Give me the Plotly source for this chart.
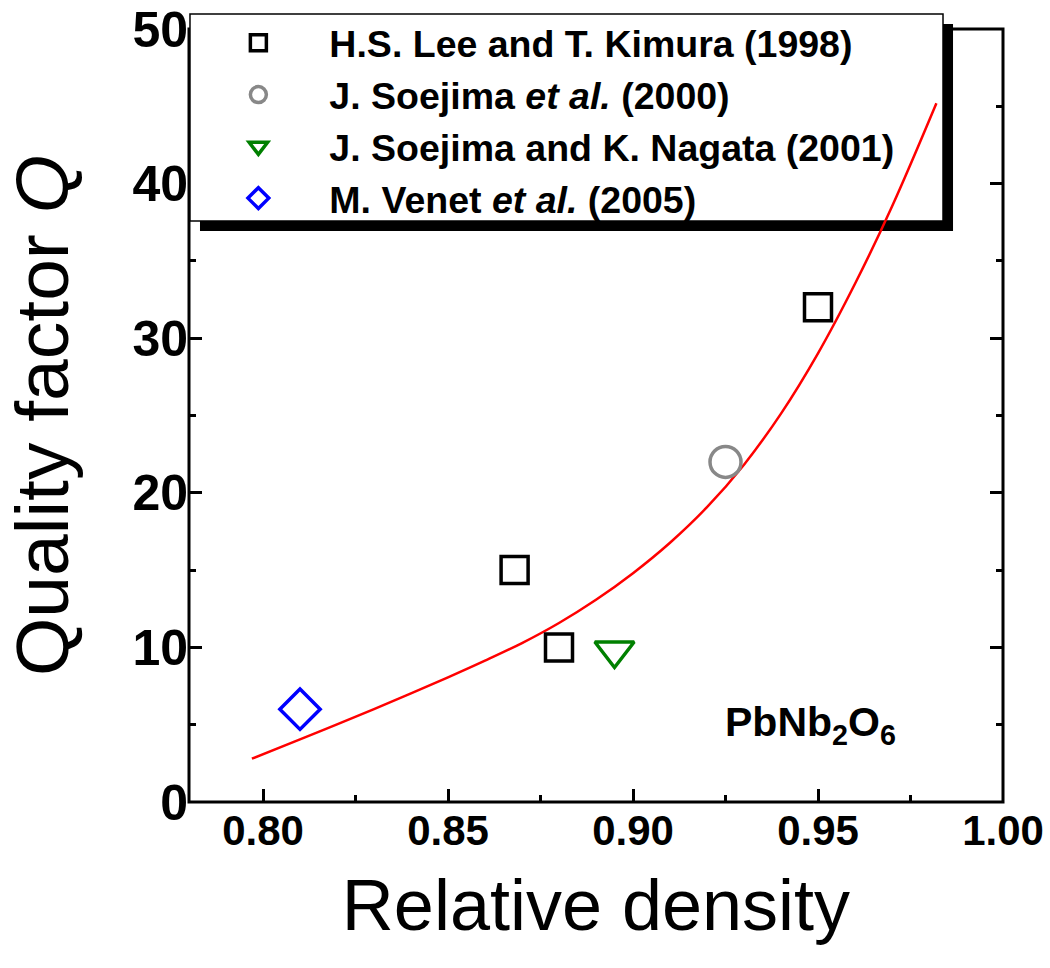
import plotly.graph_objects as go

# ---------------- data ----------------
lee_x = [0.868, 0.880, 0.950]
lee_y = [15.0, 10.0, 32.0]
soe_x = [0.925]
soe_y = [22.0]
nag_x = [0.895]
nag_y = [9.8]
ven_x = [0.810]
ven_y = [6.0]

fit_x = [0.797, 0.81, 0.82, 0.83, 0.84, 0.85, 0.86, 0.87, 0.88, 0.89, 0.90,
         0.91, 0.92, 0.93, 0.94, 0.95, 0.96, 0.97, 0.982]
fit_y = [2.8, 4.05, 5.02, 6.01, 7.02, 8.06, 9.14, 10.28, 11.58, 13.08, 14.80,
         16.77, 19.07, 21.82, 25.12, 29.02, 33.52, 38.52, 45.2]

x_ticks = [0.80, 0.85, 0.90, 0.95, 1.00]
x_ticktext = ["0.80", "0.85", "0.90", "0.95", "1.00"]
x_minor = [0.825, 0.875, 0.925, 0.975]
y_ticks = [0, 10, 20, 30, 40, 50]
y_ticktext = ["0", "10", "20", "30", "40", "50"]
y_left_major = [0, 10, 20, 30]
y_left_minor = [5, 15, 25, 35]
y_right_major = [10, 20, 30, 40]
y_right_minor = [5, 15, 25, 35, 45]

names = ["H.S. Lee and T. Kimura (1998)",
         "J. Soejima <i>et al.</i> (2000)",
         "J. Soejima and K. Nagata (2001)",
         "M. Venet <i>et al.</i> (2005)"]

FONT = "Liberation Sans, Arial, sans-serif"

fig = go.Figure()

fig.add_trace(go.Scatter(x=fit_x, y=fit_y, mode="lines",
                         line=dict(color="#ff0000", width=2.5, shape="spline", smoothing=1.0),
                         showlegend=False, hoverinfo="skip"))

fig.add_trace(go.Scatter(x=lee_x, y=lee_y, mode="markers", name=names[0], legendgroup="a",
                         marker=dict(symbol="square-open", size=27, color="black", line=dict(width=3.5, color="black"))))
fig.add_trace(go.Scatter(x=soe_x, y=soe_y, mode="markers", name=names[1], legendgroup="b",
                         marker=dict(symbol="circle-open", size=31, color="#888888", line=dict(width=3.5, color="#888888"))))
fig.add_trace(go.Scatter(x=nag_x, y=nag_y, mode="markers", name=names[2], legendgroup="c",
                         marker=dict(symbol="triangle-down-open", size=34, color="#008000", line=dict(width=3.5, color="#008000"))))
fig.add_trace(go.Scatter(x=ven_x, y=ven_y, mode="markers", name=names[3], legendgroup="d",
                         marker=dict(symbol="diamond-open", size=31, color="#0000ff", line=dict(width=3.5, color="#0000ff"))))

# dummy traces for tick-only overlay axes
fig.add_trace(go.Scatter(x=[None], y=[None], yaxis="y2", showlegend=False, hoverinfo="skip"))
fig.add_trace(go.Scatter(x=[None], y=[None], yaxis="y3", showlegend=False, hoverinfo="skip"))

tick_common = dict(ticks="inside", ticklen=13, tickwidth=3, tickcolor="black",
                   showgrid=False, zeroline=False, showline=False, automargin=False)

fig.update_layout(
    width=1050, height=968,
    margin=dict(l=189, r=47, t=29, b=166, autoexpand=False),
    paper_bgcolor="white", plot_bgcolor="rgba(0,0,0,0)",
    xaxis=dict(range=[0.78, 1.00], tickvals=x_ticks, ticktext=x_ticktext,
               tickfont=dict(family=FONT, size=42, color="black", weight="bold"),
               minor=dict(tickvals=x_minor, ticks="inside", ticklen=7, tickwidth=3, tickcolor="black"),
               title=dict(text="Relative density", font=dict(family=FONT, size=72, color="black"), standoff=26),
               **tick_common),
    yaxis=dict(range=[0, 50], tickvals=y_ticks, ticktext=y_ticktext, ticks="",
               tickfont=dict(family=FONT, size=50, color="black", weight="bold"),
               title=dict(text="Quality factor <i>Q</i>", font=dict(family=FONT, size=75, color="black"), standoff=40),
               showgrid=False, zeroline=False, showline=False, automargin=False),
    yaxis3=dict(range=[0, 50], overlaying="y", side="left", tickvals=y_left_major, showticklabels=False,
                minor=dict(tickvals=y_left_minor, ticks="inside", ticklen=7, tickwidth=3, tickcolor="black"),
                **tick_common),
    yaxis2=dict(range=[0, 50], overlaying="y", side="right", tickvals=y_right_major, showticklabels=False,
                minor=dict(tickvals=y_right_minor, ticks="inside", ticklen=7, tickwidth=3, tickcolor="black"),
                **tick_common),
    legend=dict(x=-0.002, y=1.022, xanchor="left", yanchor="top", bgcolor="rgba(0,0,0,0)", borderwidth=0,
                font=dict(family=FONT, size=37.5, color="black", weight="bold"), tracegroupgap=0,
                itemwidth=132),
    shapes=[
        # plot frame
        dict(type="rect", xref="paper", yref="paper", x0=0, y0=0, x1=1, y1=1, layer="below",
             line=dict(color="black", width=3), fillcolor="rgba(0,0,0,0)"),
        # legend shadow
        dict(type="rect", xref="paper", yref="paper", x0=0.0135, x1=0.9386, y0=0.7387, y1=1.0065, layer="below",
             line=dict(width=0), fillcolor="black"),
        # legend box
        dict(type="rect", xref="paper", yref="paper", x0=0.0012, x1=0.9263, y0=0.7516, y1=1.0194, layer="below",
             line=dict(color="black", width=1.5), fillcolor="white"),
    ],
    annotations=[
        dict(x=0.948, y=5.0, xref="x", yref="y", text="PbNb<sub>2</sub>O<sub>6</sub>", showarrow=False,
             font=dict(family=FONT, size=41, color="black", weight="bold"))
    ],
)

fig.write_html("out.html", config={"displayModeBar": False},
               post_script="document.body.style.margin='0';")
